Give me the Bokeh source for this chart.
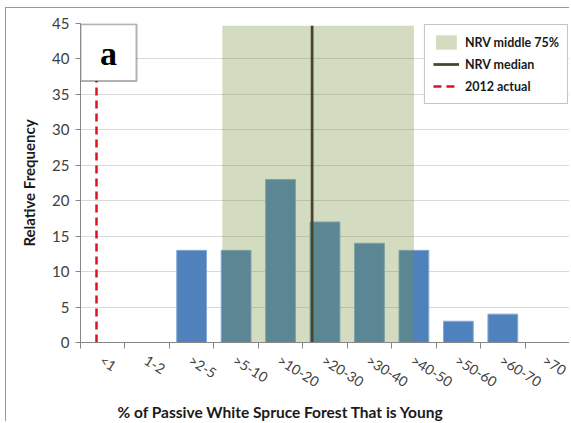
import numpy as np
from bokeh.plotting import figure
from bokeh.models import Range1d, FixedTicker, Legend, LegendItem, BoxAnnotation, Label, Title
from bokeh.embed import file_html
from bokeh.resources import INLINE

# ---- data ----
categories = ["<1", "1-2", ">2-5", ">5-10", ">10-20", ">20-30", ">30-40",
              ">40-50", ">50-60", ">60-70", ">70"]
frequency = [0, 0, 13, 13, 23, 17, 14, 13, 3, 4, 0]
y_ticks = [0, 5, 10, 15, 20, 25, 30, 35, 40, 45]
# NRV statistics expressed as positions on the category axis (0 = left edge of "<1")
nrv_middle75_low = 3.19
nrv_middle75_high = 7.5
nrv_middle75_top = 44.7
nrv_median = 5.21
actual_2012 = 0.36

FONT = "Lato"
n = len(categories)
centers = np.arange(n) + 0.5
bounds = np.arange(n + 1).astype(float)
label_pos = centers - 0.03
freq = np.array(frequency, dtype=float)
mask = freq > 0

p = figure(width=564, height=414, output_backend="svg", toolbar_location=None,
           x_range=Range1d(0, n), y_range=Range1d(0, 45),
           min_border_left=74, min_border_right=1, min_border_top=15, min_border_bottom=80,
           styles={"margin-left": "5px", "margin-top": "7px",
                   "border-left": "1px solid #9a9a9a", "border-top": "1px solid #9a9a9a"})
p.outline_line_color = None
p.background_fill_color = "white"
p.border_fill_color = "white"

# bars
p.vbar(x=centers[mask], top=freq[mask], width=0.67, bottom=0,
       fill_color="#4F81BD", line_color="#86A8D4", line_width=1)

# NRV middle 75% shading (drawn over bars, semi-transparent)
shade = p.quad(left=[nrv_middle75_low], right=[nrv_middle75_high], bottom=[0], top=[nrv_middle75_top],
               fill_color="#76923C", fill_alpha=0.32, line_color=None)

# median
med = p.line(x=[nrv_median, nrv_median], y=[0, nrv_middle75_top], line_color="#4A452A", line_width=2.75)

# 2012 actual
act = p.line(x=[actual_2012, actual_2012], y=[0, 43], line_color="#D9141E", line_width=2.5,
             line_dash="8 5")

# panel letter box
p.add_layout(BoxAnnotation(left=0, right=1.26, bottom=36.9, top=44.9,
                           fill_color="white", fill_alpha=1.0,
                           line_color="black", line_width=2))
p.add_layout(Label(x=0.63, y=40.7, text="a", text_font="Times New Roman", text_font_style="bold",
                   text_font_size="34px", text_align="center", text_baseline="middle",
                   text_color="black"))

# axes
p.xaxis.ticker = FixedTicker(ticks=list(label_pos), minor_ticks=list(bounds))
p.xaxis.major_label_overrides = {float(c): lab for c, lab in zip(label_pos, categories)}
p.xaxis.major_tick_out = 0
p.xaxis.major_tick_in = 0
p.xaxis.minor_tick_out = 6
p.xaxis.minor_tick_in = 0
p.xaxis.minor_tick_line_color = "#868686"
p.xaxis.axis_line_color = "#868686"
p.xaxis.major_label_orientation = -0.56
p.xaxis.major_label_text_font = FONT
p.xaxis.major_label_text_font_size = "14px"
p.xaxis.major_label_text_color = "#404040"
p.xaxis.major_label_standoff = 10

p.add_layout(Title(text="% of Passive White Spruce Forest That is Young", align="left", offset=37,
                   standoff=1,
                   text_font=FONT, text_font_style="bold", text_font_size="15.5px",
                   text_color="#1a1a1a"), "below")

p.yaxis.ticker = FixedTicker(ticks=y_ticks)
p.yaxis.major_tick_out = 5
p.yaxis.major_tick_in = 0
p.yaxis.minor_tick_out = 0
p.yaxis.minor_tick_in = 0
p.yaxis.major_tick_line_color = "#868686"
p.yaxis.axis_line_color = "#868686"
p.yaxis.major_label_text_font = FONT
p.yaxis.major_label_text_font_size = "15px"
p.yaxis.major_label_text_color = "#404040"
p.yaxis.major_label_standoff = 6
p.yaxis.axis_label = "Relative Frequency"
p.yaxis.axis_label_text_font = FONT
p.yaxis.axis_label_text_font_style = "bold"
p.yaxis.axis_label_text_font_size = "15px"
p.yaxis.axis_label_text_color = "#1a1a1a"
p.yaxis.axis_label_standoff = 11

p.xgrid.grid_line_color = None
p.ygrid.ticker = FixedTicker(ticks=y_ticks)
p.ygrid.grid_line_color = "#D9D9D9"
p.ygrid.grid_line_width = 1

legend = Legend(items=[LegendItem(label="NRV middle 75%", renderers=[shade]),
                       LegendItem(label="NRV median", renderers=[med]),
                       LegendItem(label="2012 actual", renderers=[act])],
                location="top_right", margin=1, padding=8, spacing=4,
                glyph_width=26, glyph_height=18, label_height=18, label_standoff=6,
                label_text_font=FONT, label_text_font_style="bold", label_text_font_size="12.5px",
                label_text_color="#1a1a1a", border_line_color="#8c8c8c", border_line_width=1,
                background_fill_color="white", background_fill_alpha=1.0)
p.add_layout(legend)

open("out.html", "w").write(file_html(p, INLINE))
